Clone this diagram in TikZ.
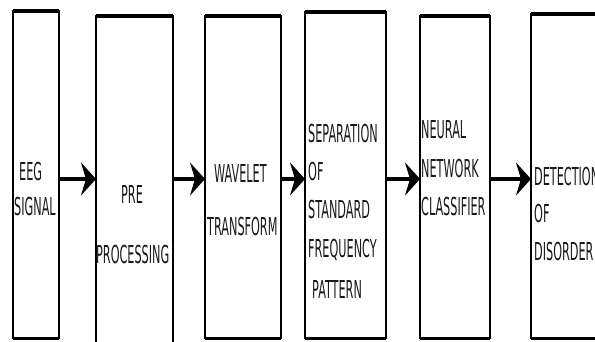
\documentclass[tikz,border=0pt]{standalone}
\usepackage{fontspec}
\newfontfamily\lblfont[FakeStretch=0.455]{DejaVu Sans}
\usetikzlibrary{arrows.meta}
\tikzset{
  stage/.style={draw=black, line width=1.6pt},
  topedge/.style={draw=black, line width=4pt},
  bottomedge/.style={draw=black, line width=3pt},
  lbl/.style={anchor=base west, inner sep=0pt, font=\lblfont\fontsize{24.7}{26}\selectfont, text=black!90},
  flow/.style={draw=black, line width=3.5pt, -{Stealth[length=15pt, width=33pt, inset=5pt]}},
}
\begin{document}
\begin{tikzpicture}[x=1pt, y=-1pt]
\useasboundingbox (0,0) rectangle (595,341);
\clip (0,0) rectangle (595,341);

% stage boxes (corner coordinates)
\coordinate (b1nw) at (13,11);  \coordinate (b1se) at (59,338);
\coordinate (b2nw) at (96,16);  \coordinate (b2se) at (173,352);
\coordinate (b3nw) at (205,16); \coordinate (b3se) at (281,338);
\coordinate (b4nw) at (305,12); \coordinate (b4se) at (386,338);
\coordinate (b5nw) at (420,16); \coordinate (b5se) at (490,338);
\coordinate (b6nw) at (531,14); \coordinate (b6se) at (610,338);

\foreach \b in {b1,b2,b3,b4,b5,b6}{
  \draw[stage] (\b nw) rectangle (\b se);
  \draw[topedge] (\b nw) -- (\b nw -| \b se);
  \draw[bottomedge] (\b nw |- \b se) -- (\b se);
}

% arrow anchor points on the box edges
\coordinate (a1s) at (59,179);  \coordinate (a1e) at (96,179);
\coordinate (a2s) at (173,179); \coordinate (a2e) at (205,179);
\coordinate (a3s) at (281,179); \coordinate (a3e) at (305,179);
\coordinate (a4s) at (386,179); \coordinate (a4e) at (420,179);
\coordinate (a5s) at (490,179); \coordinate (a5e) at (531,179);

\draw[flow] (a1s) -- (a1e);
\draw[flow] (a2s) -- (a2e);
\draw[flow] (a3s) -- (a3e);
\draw[flow] (a4s) -- (a4e);
\draw[flow] (a5s) -- (a5e);

% labels
\node[lbl] (t1a) at (19,180) {EEG};
\node[lbl] (t1b) at (14,215) {SIGNAL};

\node[lbl] (t2a) at (121,203) {PRE};
\node[lbl] (t2b) at (96,263) {PROCESSING};

\node[lbl] (t3a) at (214,182) {WAVELET};
\node[lbl] (t3b) at (207,235) {TRANSFORM};

\node[lbl] (t4a) at (308,142) {SEPARATION};
\node[lbl] (t4b) at (308,180) {OF};
\node[lbl] (t4c) at (308,218) {STANDARD};
\node[lbl] (t4d) at (308,257) {FREQUENCY};
\node[lbl] (t4e) at (312,298) {PATTERN};

\node[lbl] (t5a) at (421,138) {NEURAL};
\node[lbl] (t5b) at (421,177) {NETWORK};
\node[lbl] (t5c) at (421,215) {CLASSIFIER};

\node[lbl] (t6a) at (534,185) {DETECTION};
\node[lbl] (t6b) at (534,222) {OF};
\node[lbl] (t6c) at (534,260) {DISORDER};
\end{tikzpicture}
\end{document}
